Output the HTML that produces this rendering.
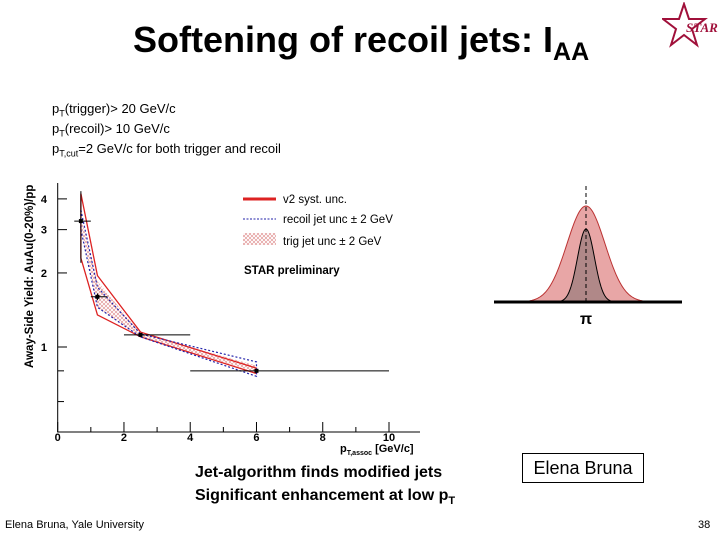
<!DOCTYPE html>
<html><head><meta charset="utf-8"><style>
body{margin:0;background:#fff;}
#root{position:relative;width:720px;height:540px;overflow:hidden;font-family:"Liberation Sans",sans-serif;}
.t{position:absolute;white-space:nowrap;}
</style></head><body>
<div id="root">
<div class="t" style="left:133px;top:19px;font-size:36px;font-weight:bold;">Softening of recoil jets: I<sub style="font-size:25px;">AA</sub></div>
<svg style="position:absolute;left:662px;top:2px" width="58" height="46"><polygon points="22,2 27,17 43,17 30,27 35,43 22,33 9,43 14,27 1,17 17,17" fill="none" stroke="#a0103a" stroke-width="2"/><text x="24" y="30" font-size="13" font-style="italic" font-weight="bold" fill="#a0103a" font-family="Liberation Serif,serif">STAR</text></svg>
<div class="t" style="left:52px;top:101px;font-size:13px;">p<sub style="font-size:9px">T</sub>(trigger)&gt; 20 GeV/c</div>
<div class="t" style="left:52px;top:121px;font-size:13px;">p<sub style="font-size:9px">T</sub>(recoil)&gt; 10 GeV/c</div>
<div class="t" style="left:52px;top:141px;font-size:13px;">p<sub style="font-size:9px">T,cut</sub>=2 GeV/c for both trigger and recoil</div>
<svg id="chart" style="position:absolute;left:0;top:0" width="720" height="540"></svg>
<div class="t" style="left:195px;top:464px;font-size:16px;font-weight:bold;">Jet-algorithm finds modified jets</div>
<div class="t" style="left:195px;top:487px;font-size:16px;font-weight:bold;">Significant enhancement at low p<sub style="font-size:11px">T</sub></div>
<div class="t" style="left:522px;top:453px;width:120px;height:28px;border:1px solid #000;background:#fff;font-size:18px;text-align:center;line-height:28px;">Elena Bruna</div>
<div class="t" style="left:5px;top:519px;font-size:11px;">Elena Bruna, Yale University</div>
<div class="t" style="left:698px;top:519px;font-size:11px;">38</div>
</div>
<script>
const xCats=[0.7,1.2,2.5,6];
const yVals=[3.25,1.6,1.12,0.8];
const xLo=[0.5,1.0,2.0,4.0];
const xHi=[1.0,1.5,4.0,10.0];
const yErrLo=[2.2,1.55,1.1,0.79];
const yErrHi=[4.3,1.65,1.14,0.81];
const v2Up=[4.2,1.95,1.15,0.82];
const v2Lo=[2.3,1.35,1.1,0.78];
const recUp=[3.6,1.75,1.13,0.87];
const recLo=[3.0,1.45,1.1,0.76];
const trigUp=[3.4,1.85,1.14,0.84];
const trigLo=[3.1,1.45,1.1,0.79];
const xTicks=[0,2,4,6,8,10];
const yTicks=[1,2,3,4];
const NS="http://www.w3.org/2000/svg";
const svg=document.getElementById('chart');
const X=v=>57.7+v*33.13;
const Y=v=>347-246*Math.log10(v);
function mk(t,a,p){const e=document.createElementNS(NS,t);for(const k in a)e.setAttribute(k,a[k]);(p||svg).appendChild(e);return e;}
const defs=mk('defs',{});
const pat=mk('pattern',{id:'hatch',width:4,height:4,patternUnits:'userSpaceOnUse'},defs);
mk('path',{d:'M0,4 L4,0 M0,0 L4,4',stroke:'#d88',"stroke-width":0.6},pat);
let ax=mk('path',{d:`M57.7,183 V432 H420`,stroke:'#000',fill:'none'});

xTicks.forEach(v=>{let t=mk('line',{x1:X(v),x2:X(v),y1:432,y2:422,stroke:'#000'});

let l=mk('text',{x:X(v),y:441,"font-size":11,"font-weight":"bold","text-anchor":"middle"});l.textContent=v;
});
for(let v=1;v<10.5;v+=2){mk('line',{x1:X(v),x2:X(v),y1:432,y2:427,stroke:'#000'});}
yTicks.forEach(v=>{let t=mk('line',{x1:57.7,x2:67,y1:Y(v),y2:Y(v),stroke:'#000'});

let l=mk('text',{x:47,y:Y(v)+4,"font-size":11,"font-weight":"bold","text-anchor":"end"});l.textContent=v;
});
[0.8,0.6].forEach(v=>mk('line',{x1:57.7,x2:64,y1:Y(v),y2:Y(v),stroke:'#000'}));
let yt=mk('text',{x:0,y:0,"font-size":11.5,"font-weight":"bold",transform:'translate(33,368) rotate(-90)'});yt.textContent='Away-Side Yield: AuAu(0-20%)/pp';

let xt=mk('text',{x:340,y:452,"font-size":11,"font-weight":"bold"});xt.innerHTML='p<tspan font-size="7" dy="3">T,assoc</tspan><tspan dy="-3"> [GeV/c]</tspan>';

function band(up,lo){return xCats.map((c,i)=>`${X(c)},${Y(up[i])}`).concat(xCats.slice().reverse().map((c,j)=>{const i=xCats.length-1-j;return `${X(c)},${Y(lo[i])}`;})).join(' ');}
let tb=mk('polygon',{points:band(trigUp,trigLo),fill:'url(#hatch)',stroke:'none'});

let vb=mk('polygon',{points:band(v2Up,v2Lo),fill:'none',stroke:'#d22',"stroke-width":1.3});

let rb=mk('polygon',{points:band(recUp,recLo),fill:'none',stroke:'#22a',"stroke-width":1.2,"stroke-dasharray":'2,2'});

xCats.forEach((c,i)=>{
let h=mk('line',{x1:X(xLo[i]),x2:X(xHi[i]),y1:Y(yVals[i]),y2:Y(yVals[i]),stroke:'#000'});

let v=mk('line',{x1:X(c),x2:X(c),y1:Y(yErrLo[i]),y2:Y(yErrHi[i]),stroke:'#000'});

let p=mk('rect',{x:X(c)-2,y:Y(yVals[i])-2,width:4,height:4,fill:'#000'});
});
let g=mk('g',{});
mk('line',{x1:243,x2:276,y1:199,y2:199,stroke:'#d22',"stroke-width":3},g);
mk('line',{x1:243,x2:276,y1:219,y2:219,stroke:'#22a',"stroke-dasharray":'2,1.5'},g);
mk('rect',{x:243,y:233,width:33,height:12,fill:'url(#hatch)'},g);
[['v2 syst. unc.',203],['recoil jet unc \u00b1 2 GeV',223],['trig jet unc \u00b1 2 GeV',245]].forEach(a=>{let t=mk('text',{x:283,y:a[1],"font-size":11.5},g);t.textContent=a[0];});
let sp=mk('text',{x:244,y:274,"font-size":11.5,"font-weight":"bold"});sp.textContent='STAR preliminary';

function gauss(c,s,h,b){let d=`M${c-4*s},${b}`;for(let x=-4*s;x<=4*s;x+=1)d+=` L${c+x},${b-h*Math.exp(-x*x/(2*s*s))}`;return d+' Z';}
let gr=mk('path',{d:gauss(586,19,96,302),fill:'#e8a6a6',stroke:'#b33'});

let gb=mk('path',{d:gauss(586,8.5,73,302),fill:'#b08888',stroke:'#000'});

mk('line',{x1:586,x2:586,y1:186,y2:302,stroke:'#000',"stroke-dasharray":'4,3'});
let bl=mk('line',{x1:494,x2:682,y1:302,y2:302,stroke:'#000',"stroke-width":3});

let pi=mk('text',{x:586,y:324,"font-size":16,"font-weight":"bold","text-anchor":"middle"});pi.textContent='\u03c0';

</script>
</body></html>
